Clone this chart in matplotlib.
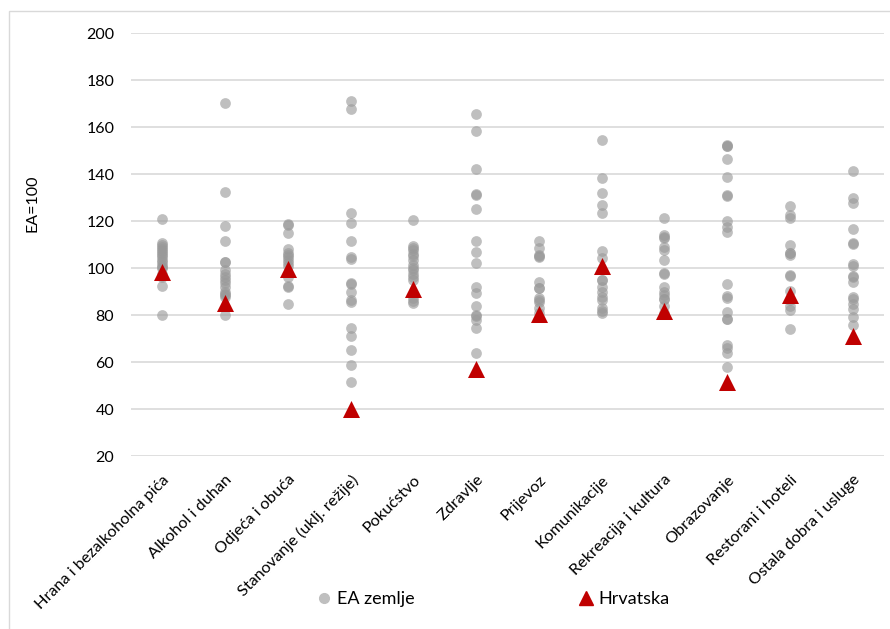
import matplotlib
matplotlib.use('Agg')
import matplotlib.pyplot as plt
from matplotlib.patches import Rectangle
from matplotlib.lines import Line2D

categories = ['Hrana i bezalkoholna pića', 'Alkohol i duhan', 'Odjeća i obuća',
              'Stanovanje (uklj. režije)', 'Pokućstvo', 'Zdravlje', 'Prijevoz',
              'Komunikacije', 'Rekreacija i kultura', 'Obrazovanje',
              'Restorani i hoteli', 'Ostala dobra i usluge']

# EA zemlje, one list per category
hrana = [121, 110.8, 110, 109, 108, 107.4, 106.5, 105.5, 104.8, 103.5, 102.5,
         101.3, 100.5, 100, 97.5, 96.3, 92.3, 80]
alkohol = [170.2, 132.2, 118, 111.3, 102.7, 102.5, 99.1, 97.5, 96.3, 94.9, 93.5,
           92, 90, 89, 88.5, 87.5, 80]
odjeca = [118.7, 118.5, 114.9, 108.1, 106.5, 105.5, 104.5, 103.4, 102.3, 101,
          96.3, 92.3, 92.0, 84.5]
stanovanje = [171.2, 167.5, 123.4, 119, 111.5, 104.8, 103.8, 93.5, 93.2, 89.9,
              86.4, 85.7, 74.3, 71.1, 65.1, 58.6, 51.3]
pokucstvo = [120.4, 109.4, 108.5, 107.7, 106, 105, 103.4, 101.3, 100, 99.1, 97.5,
             96.3, 94.9, 87.1, 86, 85.2]
zdravlje = [165.7, 158.4, 142, 131.6, 131.1, 125, 111.5, 106.7, 102.3, 92, 89.5,
            83.7, 79.9, 79.5, 77.9, 74.6, 63.8]
prijevoz = [111.5, 108.7, 105.5, 105.1, 104.5, 93.9, 91.7, 91.3, 87.1, 86.5, 85.7,
            82.8, 81]
komunikacije = [154.5, 138.2, 132.1, 126.8, 123.5, 107.2, 104.1, 95.1, 94.7, 92,
                90, 87.5, 86.4, 83.1, 81.5, 80.7]
rekreacija = [121.4, 114, 113, 112.6, 109.1, 107.5, 103.4, 97.9, 97.5, 91.8, 90,
              88.5, 87, 86.7, 84, 80.7]
obrazovanje = [152.4, 152, 151.8, 146.4, 138.7, 131.1, 130.8, 120, 117.6, 115.5,
               93, 88.1, 87.1, 81.4, 78.3, 78.1, 67.2, 65.8, 64, 57.7]
restorani = [126.4, 122.6, 121.4, 109.8, 106.5, 106.2, 105.5, 96.9, 96.5, 90.4,
             86.4, 84, 82.1, 73.9]
ostala = [141.4, 129.6, 127.5, 116.6, 110.6, 110.2, 101.6, 100.9, 96.5, 96.1,
          94.2, 87.8, 86.7, 84.5, 82.4, 79.3, 75.7]

ea_values = [hrana, alkohol, odjeca, stanovanje, pokucstvo, zdravlje, prijevoz,
             komunikacije, rekreacija, obrazovanje, restorani, ostala]

hrvatska = [98.5, 85, 99.5, 40, 91, 57, 80.5, 101, 81.5, 51.5, 88.5, 71]

plt.rcParams['font.family'] = ['Lato', 'DejaVu Sans']

fig = plt.figure(figsize=(8.9, 6.29), dpi=100)
ax = fig.add_axes([0.1472, 0.275, 0.8461, 0.6725])

for i, vals in enumerate(ea_values):
    ax.scatter([i] * len(vals), vals, s=60, color='#999999', alpha=0.62,
               linewidths=0, zorder=2)
ax.scatter(range(len(hrvatska)), hrvatska, marker='^', s=150, color='#C00000',
           linewidths=0, zorder=3)

ax.set_xlim(-0.5, len(categories) - 0.5)
ax.set_ylim(20, 200)
ax.set_yticks(range(20, 201, 20))
ax.grid(axis='y', color='#D9D9D9', linewidth=1.2)
ax.set_axisbelow(True)
for sp in ax.spines.values():
    sp.set_visible(False)
ax.tick_params(axis='y', length=0, pad=12, labelsize=11.5)
ax.tick_params(axis='x', length=0, pad=12, labelsize=11.7)
ax.set_xticks(range(len(categories)))
ax.set_xticklabels(categories, rotation=45, ha='right', va='top',
                   rotation_mode='anchor')

fig.text(0.037, 0.677, 'EA=100', rotation=90, ha='center', va='center', fontsize=11.5)

handles = [Line2D([], [], marker='o', color='#BFBFBF', linestyle='', markersize=7),
           Line2D([], [], marker='^', color='#C00000', linestyle='', markersize=10)]
fig.legend(handles, ['EA zemlje', 'Hrvatska'], loc='center',
           bbox_to_anchor=(0.553, 0.047), ncol=2, frameon=False, fontsize=13,
           columnspacing=9.0, handletextpad=0.2, handlelength=1.0)

fig.add_artist(Rectangle((9 / 890, -0.1), 1.2, 0.1 + 1 - 11 / 629,
                         transform=fig.transFigure, fill=False,
                         edgecolor='#D9D9D9', linewidth=1))

fig.savefig('out.png', dpi=100)
